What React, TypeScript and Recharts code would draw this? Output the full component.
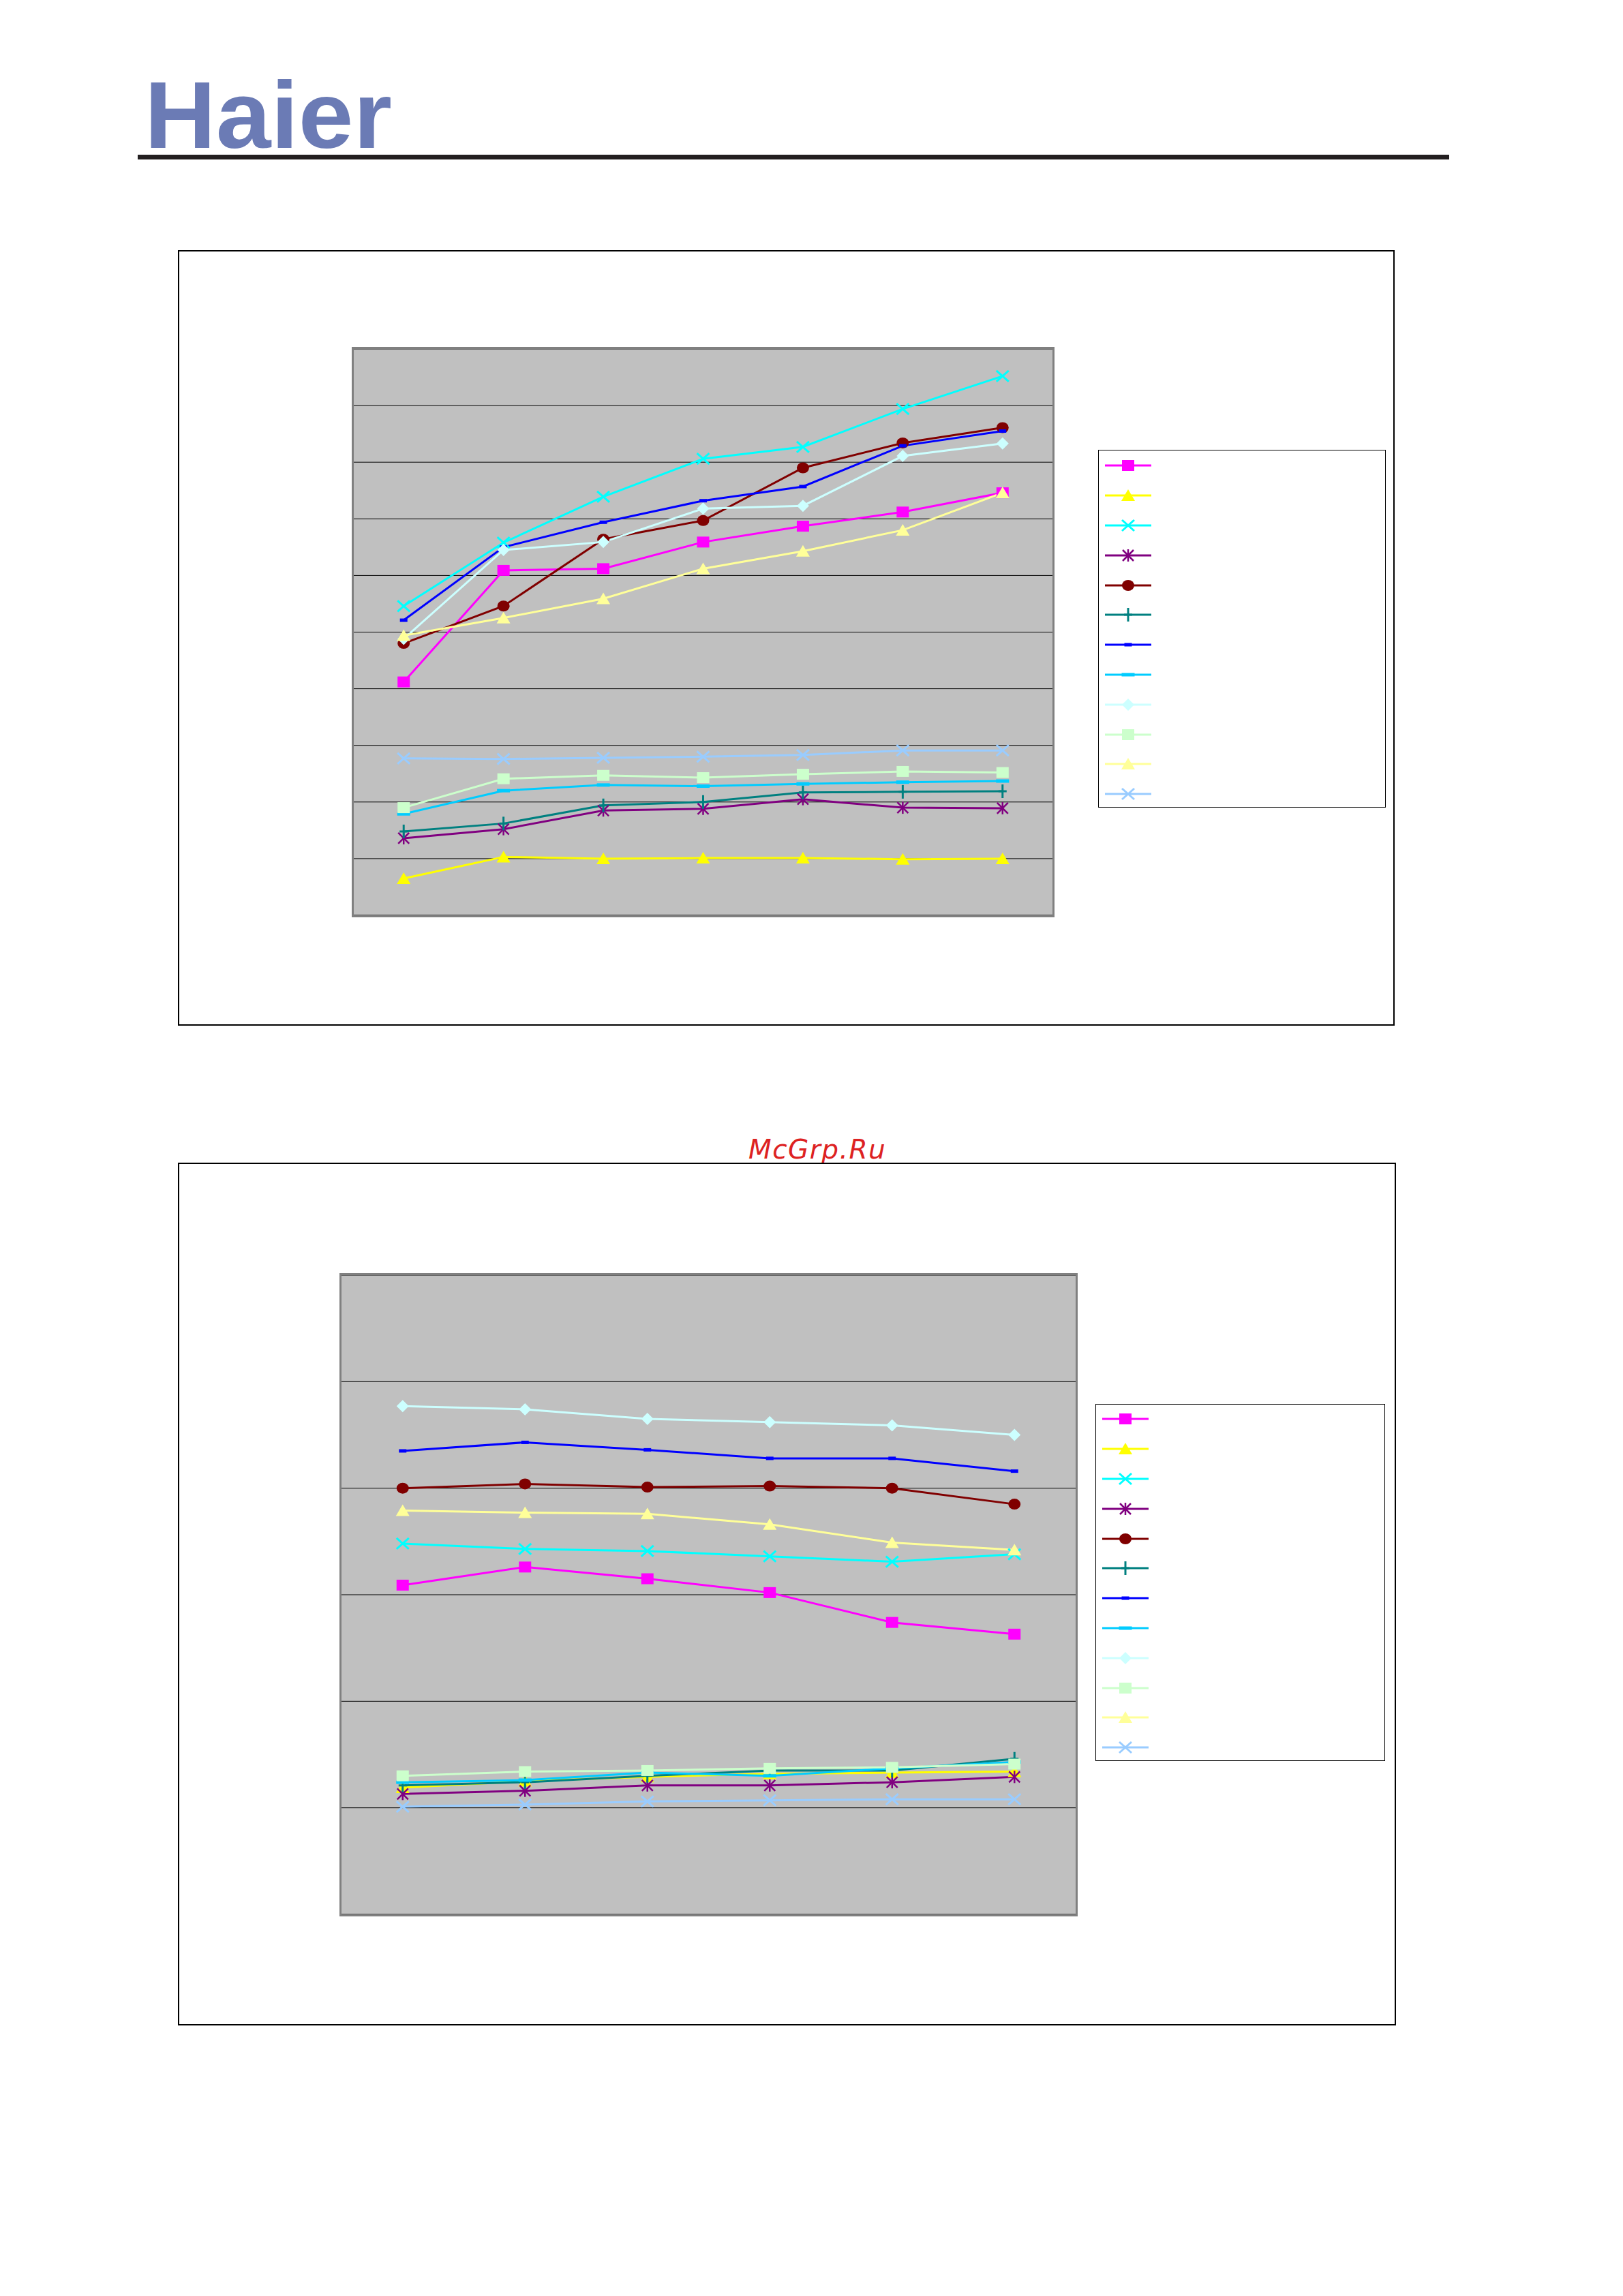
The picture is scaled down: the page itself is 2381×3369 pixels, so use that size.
import React from 'react';
import { LineChart, Line, XAxis, YAxis, CartesianGrid, Legend } from 'recharts';

// ---------- Chart 1 data (7 categories, y in gridline units 0..10) ----------
const categories1 = ['1', '2', '3', '4', '5', '6', '7'];
const c1Magenta = [4.12, 6.09, 6.12, 6.59, 6.87, 7.12, 7.46];
const c1Yellow = [0.65, 1.03, 1.0, 1.01, 1.01, 0.99, 1.0];
const c1Cyan = [5.46, 6.58, 7.39, 8.06, 8.27, 8.94, 9.52];
const c1Purple = [1.36, 1.52, 1.85, 1.88, 2.05, 1.9, 1.89];
const c1DarkRed = [4.8, 5.46, 6.64, 6.97, 7.9, 8.34, 8.61];
const c1Teal = [1.48, 1.62, 1.94, 2.0, 2.17, 2.18, 2.19];
const c1Blue = [5.21, 6.5, 6.94, 7.32, 7.57, 8.29, 8.55];
const c1Sky = [1.79, 2.2, 2.3, 2.28, 2.32, 2.35, 2.37];
const c1LightCyan = [4.88, 6.45, 6.59, 7.18, 7.23, 8.11, 8.33];
const c1LightGreen = [1.9, 2.41, 2.47, 2.43, 2.49, 2.54, 2.52];
const c1LightYellow = [4.94, 5.25, 5.59, 6.12, 6.43, 6.8, 7.46];
const c1LightBlue = [2.77, 2.76, 2.78, 2.8, 2.83, 2.91, 2.91];
const yTicks1 = [0, 1, 2, 3, 4, 5, 6, 7, 8, 9];
const xTicks1 = [0, 1, 2, 3, 4, 5, 6, 7];

// ---------- Chart 2 data (6 categories, y in gridline units 0..6) ----------
const categories2 = ['1', '2', '3', '4', '5', '6'];
const c2Magenta = [3.09, 3.26, 3.15, 3.02, 2.74, 2.63];
const c2Yellow = [1.19, 1.25, 1.29, 1.32, 1.33, 1.34];
const c2Cyan = [3.48, 3.43, 3.41, 3.36, 3.31, 3.38];
const c2Purple = [1.13, 1.16, 1.21, 1.21, 1.24, 1.29];
const c2DarkRed = [4.0, 4.04, 4.01, 4.02, 4.0, 3.85];
const c2Teal = [1.21, 1.24, 1.3, 1.35, 1.35, 1.46];
const c2Blue = [4.35, 4.43, 4.36, 4.28, 4.28, 4.16];
const c2Sky = [1.24, 1.26, 1.33, 1.3, 1.37, 1.43];
const c2LightCyan = [4.77, 4.74, 4.65, 4.62, 4.59, 4.5];
const c2LightGreen = [1.3, 1.34, 1.35, 1.37, 1.38, 1.41];
const c2LightYellow = [3.79, 3.77, 3.76, 3.66, 3.49, 3.42];
const c2LightBlue = [1.01, 1.03, 1.06, 1.07, 1.08, 1.08];
const yTicks2 = [0, 1, 2, 3, 4, 5];
const xTicks2 = [0, 1, 2, 3, 4, 5, 6];

// ---------- series styles ----------
type MarkerType = 'square' | 'triangle' | 'x' | 'star' | 'circle' | 'plus' | 'dashSmall' | 'dashLong' | 'diamond';
const SERIES: { key: string; color: string; marker: MarkerType }[] = [
  { key: 's01', color: '#FF00FF', marker: 'square' },
  { key: 's02', color: '#FFFF00', marker: 'triangle' },
  { key: 's03', color: '#00FFFF', marker: 'x' },
  { key: 's04', color: '#800080', marker: 'star' },
  { key: 's05', color: '#800000', marker: 'circle' },
  { key: 's06', color: '#008080', marker: 'plus' },
  { key: 's07', color: '#0000FF', marker: 'dashSmall' },
  { key: 's08', color: '#00CCFF', marker: 'dashLong' },
  { key: 's09', color: '#CCFFFF', marker: 'diamond' },
  { key: 's10', color: '#CCFFCC', marker: 'square' },
  { key: 's11', color: '#FFFF99', marker: 'triangle' },
  { key: 's12', color: '#99CCFF', marker: 'x' },
];

function buildRows(cats: string[], series: number[][]) {
  return cats.map((c, i) => {
    const row: any = { name: c, x: i + 0.5 };
    series.forEach((arr, k) => {
      row[SERIES[k].key] = arr[i];
    });
    return row;
  });
}

const rows1 = buildRows(categories1, [
  c1Magenta, c1Yellow, c1Cyan, c1Purple, c1DarkRed, c1Teal,
  c1Blue, c1Sky, c1LightCyan, c1LightGreen, c1LightYellow, c1LightBlue,
]);
const rows2 = buildRows(categories2, [
  c2Magenta, c2Yellow, c2Cyan, c2Purple, c2DarkRed, c2Teal,
  c2Blue, c2Sky, c2LightCyan, c2LightGreen, c2LightYellow, c2LightBlue,
]);

function Marker({ type, cx, cy, color }: { type: MarkerType; cx: number; cy: number; color: string }) {
  if (cx == null || cy == null || isNaN(cx) || isNaN(cy)) return <g />;
  switch (type) {
    case 'square':
      return <rect x={cx - 9} y={cy - 8} width={18} height={16} fill={color} />;
    case 'triangle':
      return <polygon points={`${cx},${cy - 9} ${cx + 10},${cy + 8} ${cx - 10},${cy + 8}`} fill={color} />;
    case 'x':
      return (
        <g stroke={color} strokeWidth={3}>
          <line x1={cx - 9} y1={cy - 8} x2={cx + 9} y2={cy + 8} />
          <line x1={cx - 9} y1={cy + 8} x2={cx + 9} y2={cy - 8} />
        </g>
      );
    case 'star':
      return (
        <g stroke={color} strokeWidth={2.5}>
          <line x1={cx - 8} y1={cy - 8} x2={cx + 8} y2={cy + 8} />
          <line x1={cx - 8} y1={cy + 8} x2={cx + 8} y2={cy - 8} />
          <line x1={cx} y1={cy - 9} x2={cx} y2={cy + 9} />
        </g>
      );
    case 'circle':
      return <ellipse cx={cx} cy={cy} rx={9} ry={8} fill={color} />;
    case 'plus':
      return (
        <g stroke={color} strokeWidth={3}>
          <line x1={cx} y1={cy - 10} x2={cx} y2={cy + 10} />
          <line x1={cx - 6} y1={cy} x2={cx + 6} y2={cy} />
        </g>
      );
    case 'dashSmall':
      return <rect x={cx - 5.5} y={cy - 2.5} width={11} height={5} fill={color} />;
    case 'dashLong':
      return <rect x={cx - 9.5} y={cy - 2.5} width={19} height={5} fill={color} />;
    case 'diamond':
      return <polygon points={`${cx},${cy - 9} ${cx + 9},${cy} ${cx},${cy + 9} ${cx - 9},${cy}`} fill={color} />;
    default:
      return <g />;
  }
}

type LegendCfg = {
  left: number; top: number; width: number; height: number;
  firstY: number; step: number; x1: number; x2: number; mx: number;
};

function LegendBox({ payload, cfg }: { payload: any[] | undefined; cfg: LegendCfg }) {
  const present = new Set((payload || []).map((p: any) => p.dataKey));
  const items = SERIES.filter((s) => present.size === 0 || present.has(s.key));
  return (
    <div
      style={{
        position: 'relative',
        width: cfg.width,
        height: cfg.height,
        border: '1.5px solid #000',
        boxSizing: 'border-box',
        background: '#fff',
      }}
    >
      {items.map((s, i) => (
        <svg
          key={s.key}
          width={90}
          height={24}
          style={{ position: 'absolute', left: 0, top: cfg.firstY + i * cfg.step - 12 }}
        >
          <line x1={cfg.x1} x2={cfg.x2} y1={12} y2={12} stroke={s.color} strokeWidth={3} />
          <Marker type={s.marker} cx={cfg.mx} cy={12} color={s.color} />
        </svg>
      ))}
    </div>
  );
}

type PanelProps = {
  left: number; top: number; width: number; height: number;
  margin: { left: number; top: number; right: number; bottom: number };
  rows: any[]; xMax: number; xTicks: number[]; yMax: number; yTicks: number[];
  legend: LegendCfg;
};

function ChartPanel({ left, top, width, height, margin, rows, xMax, xTicks, yMax, yTicks, legend }: PanelProps) {
  const plotW = width - margin.left - margin.right;
  const plotH = height - margin.top - margin.bottom;
  return (
    <div style={{ position: 'absolute', left, top, width, height }}>
      <LineChart width={width} height={height} data={rows} margin={margin}>
        <CartesianGrid vertical={false} horizontal stroke="#000" strokeWidth={1} fill="#C0C0C0" fillOpacity={1} />
        <XAxis
          type="number"
          dataKey="x"
          domain={[0, xMax]}
          ticks={xTicks}
          height={0}
          mirror
          tickSize={10}
          tickFormatter={() => ''}
          axisLine={{ stroke: '#000', strokeWidth: 2 }}
          tickLine={{ stroke: '#000', strokeWidth: 1.5 }}
        />
        <YAxis
          type="number"
          domain={[0, yMax]}
          ticks={yTicks}
          width={0}
          tickFormatter={() => ''}
          tickLine={false}
          axisLine={{ stroke: '#000', strokeWidth: 1.5 }}
        />
        <Legend
          layout="horizontal"
          verticalAlign="middle"
          align="center"
          itemSorter={null as any}
          wrapperStyle={{ left: legend.left, top: legend.top, width: legend.width, height: legend.height }}
          content={(p: any) => <LegendBox payload={p.payload} cfg={legend} />}
        />
        {SERIES.map((s) => (
          <Line
            key={s.key}
            type="linear"
            dataKey={s.key}
            stroke={s.color}
            strokeWidth={3}
            isAnimationActive={false}
            activeDot={false}
            dot={(p: any) => (
              <g key={`${s.key}-${p.index}`}>
                <Marker type={s.marker} cx={p.cx} cy={p.cy} color={s.color} />
              </g>
            )}
          />
        ))}
      </LineChart>
      <div
        style={{
          position: 'absolute',
          left: margin.left - 3,
          top: margin.top - 3,
          width: plotW + 6,
          height: plotH + 6,
          border: '3px solid #808080',
          boxSizing: 'border-box',
          pointerEvents: 'none',
        }}
      />
      <div
        style={{
          position: 'absolute',
          left: 0,
          top: 0,
          width,
          height,
          border: '2px solid #000',
          boxSizing: 'border-box',
          pointerEvents: 'none',
        }}
      />
    </div>
  );
}

const PAGE_W = 2381;
const PAGE_H = 3369;

export default function App() {
  return (
    <div style={{ position: 'absolute', left: 0, top: 0, width: PAGE_W, height: PAGE_H, background: '#fff', overflow: 'hidden' }}>
      <svg width={PAGE_W} height={PAGE_H} style={{ position: 'absolute', left: 0, top: 0 }}>
        <text
          x={212}
          y={217}
          fontFamily="'Liberation Sans', Arial, sans-serif"
          fontWeight={700}
          fontSize={140}
          fill="#6B7BB5"
          textLength={363}
          lengthAdjust="spacingAndGlyphs"
        >
          Haier
        </text>
        <rect x={202} y={227} width={1924} height={7} fill="#231F20" />
        <text
          x={1098}
          y={1700}
          fontFamily="'DejaVu Sans', sans-serif"
          fontStyle="italic"
          fontSize={39}
          fill="#DD2222"
          letterSpacing={1.5}
        >
          McGrp.Ru
        </text>
      </svg>

      <ChartPanel
        left={261}
        top={367}
        width={1785}
        height={1138}
        margin={{ left: 258, top: 145, right: 502, bottom: 162 }}
        rows={rows1}
        xMax={7}
        xTicks={xTicks1}
        yMax={10}
        yTicks={yTicks1}
        legend={{ left: 1350, top: 293, width: 422, height: 525, firstY: 22.4, step: 43.8, x1: 9, x2: 77, mx: 43 }}
      />

      <ChartPanel
        left={261}
        top={1706}
        width={1787}
        height={1266}
        margin={{ left: 240, top: 165, right: 470, bottom: 163 }}
        rows={rows2}
        xMax={6}
        xTicks={xTicks2}
        yMax={6}
        yTicks={yTicks2}
        legend={{ left: 1346, top: 354, width: 425, height: 524, firstY: 21.4, step: 43.8, x1: 9, x2: 77, mx: 43 }}
      />
    </div>
  );
}
